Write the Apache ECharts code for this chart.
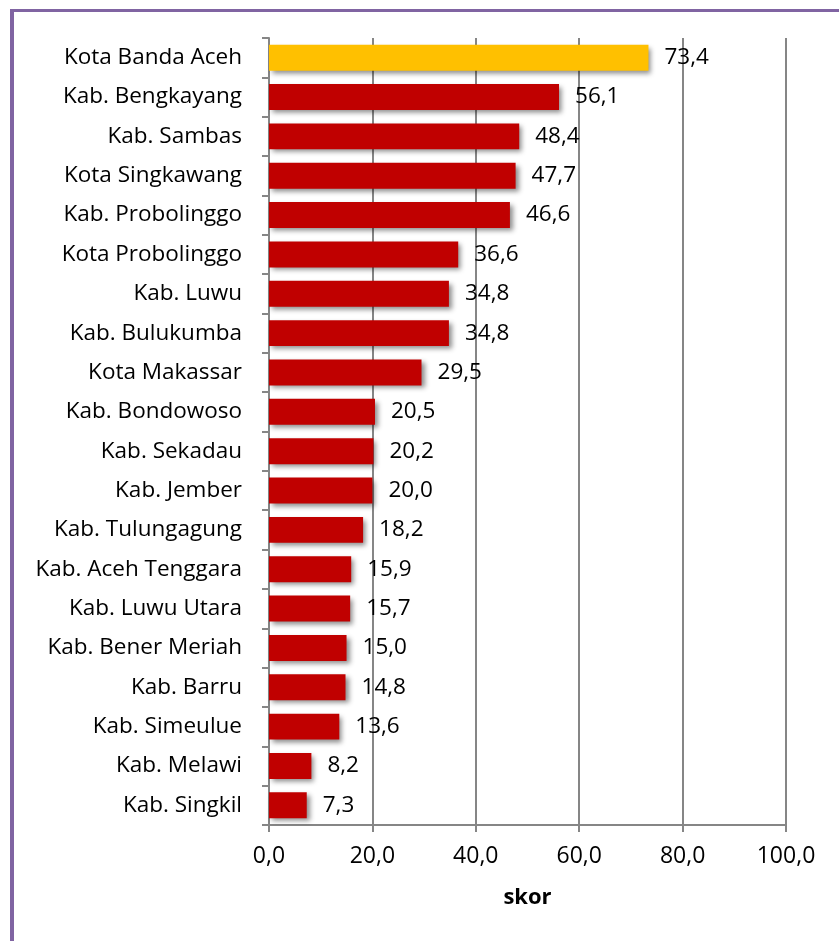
<!DOCTYPE html>
<html>
<head>
<meta charset="utf-8">
<script src="https://cdn.jsdelivr.net/npm/echarts@6/dist/echarts.min.js"></script>
<style>
  html, body { margin: 0; padding: 0; background: #fff; }
  #frame { position: absolute; left: 10px; top: 9px; width: 829px; height: 932px;
           border-top: 3px solid #8064A2; border-left: 4px solid #8064A2; box-sizing: border-box; }
  #chart { position: absolute; left: 0; top: 0; width: 839px; height: 941px; }
</style>
</head>
<body>
<div id="frame"></div>
<div id="chart"></div>
<script>
  // kabupaten / kota, urut dari atas ke bawah
  var regions = ['Kota Banda Aceh', 'Kab. Bengkayang', 'Kab. Sambas', 'Kota Singkawang',
    'Kab. Probolinggo', 'Kota Probolinggo', 'Kab. Luwu', 'Kab. Bulukumba', 'Kota Makassar',
    'Kab. Bondowoso', 'Kab. Sekadau', 'Kab. Jember', 'Kab. Tulungagung', 'Kab. Aceh Tenggara',
    'Kab. Luwu Utara', 'Kab. Bener Meriah', 'Kab. Barru', 'Kab. Simeulue', 'Kab. Melawi',
    'Kab. Singkil']
  var skor = [73.4, 56.1, 48.4, 47.7, 46.6, 36.6, 34.8, 34.8, 29.5, 20.5, 20.2, 20.0,
    18.2, 15.9, 15.7, 15.0, 14.8, 13.6, 8.2, 7.3]
  var highlight = 'Kota Banda Aceh'

  var fmt = v => v.toFixed(1).replace('.', ',')
  var font = 'Open Sans'

  var chart = echarts.init(document.getElementById('chart'))
  chart.setOption({
    animation: false,
    grid: { left: 269, right: 53, top: 38, bottom: 116 },
    xAxis: {
      type: 'value', min: 0, max: 100, interval: 20,
      name: 'skor', nameLocation: 'middle', nameGap: 62,
      nameTextStyle: { fontFamily: font, fontSize: 22, fontWeight: 'bold', color: '#000' },
      axisLine: { show: true, lineStyle: { color: '#868686', width: 2 } },
      axisTick: { show: true, length: 7, lineStyle: { color: '#868686', width: 2 } },
      axisLabel: { formatter: fmt, margin: 20, fontFamily: font, fontSize: 23, color: '#000' },
      splitLine: { show: true, lineStyle: { color: '#868686', width: 2 } }
    },
    yAxis: {
      type: 'category', data: regions, inverse: true,
      axisLine: { show: true, lineStyle: { color: '#868686', width: 2 } },
      axisTick: { show: true, length: 7, lineStyle: { color: '#868686', width: 2 } },
      axisLabel: { margin: 27, fontFamily: font, fontSize: 22.5, color: '#000' }
    },
    series: [{
      type: 'bar',
      barCategoryGap: '34%',
      data: skor.map((v, i) => ({
        value: v,
        itemStyle: { color: regions[i] === highlight ? '#FFC000' : '#C00000' }
      })),
      itemStyle: {
        shadowColor: 'rgba(0,0,0,0.45)', shadowBlur: 5, shadowOffsetX: 3, shadowOffsetY: 3
      },
      label: {
        show: true, position: 'right', distance: 16, formatter: p => fmt(p.value),
        fontFamily: font, fontSize: 22.5, color: '#000'
      }
    }]
  })
</script>
</body>
</html>
